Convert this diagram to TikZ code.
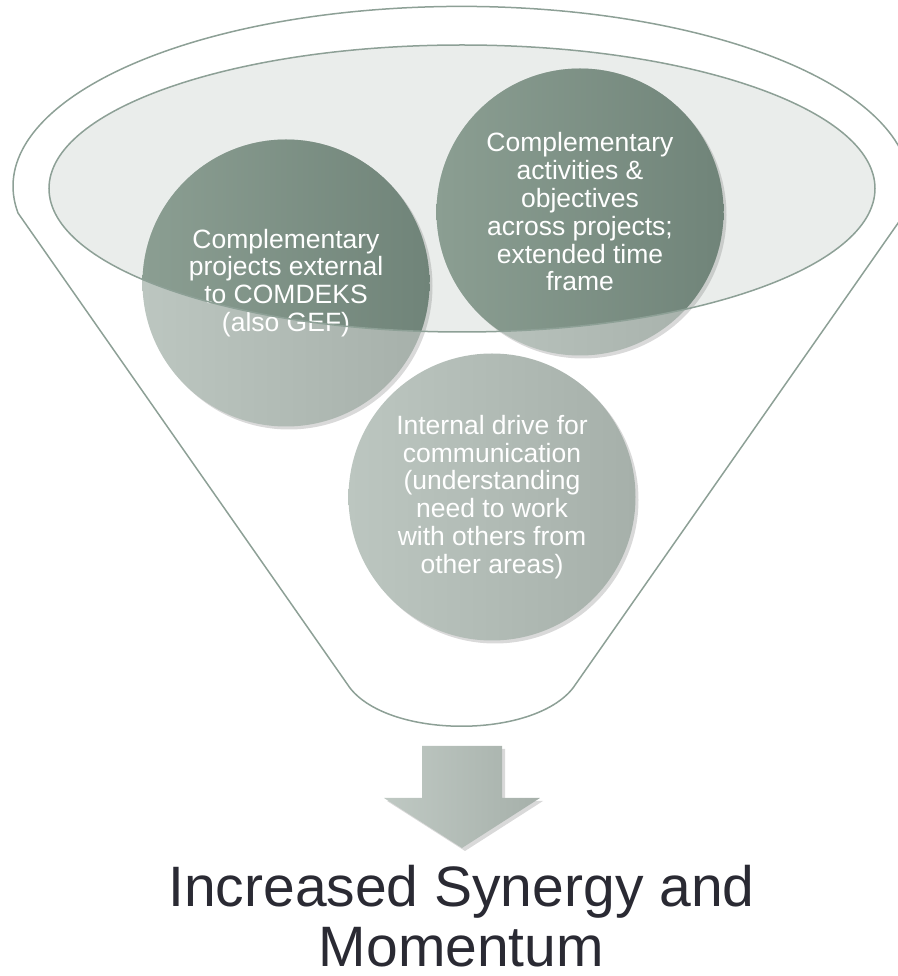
\documentclass[tikz,border=0pt]{standalone}
\usepackage{fontspec}
\setmainfont{Liberation Sans}
\usetikzlibrary{shadows}
\definecolor{rimline}{HTML}{8DA096}
\definecolor{rimfill}{HTML}{EAEDEB}
\definecolor{palegreen}{HTML}{BCC6C0}
\definecolor{palegreendk}{HTML}{A6B0AA}
\definecolor{deepgreen}{HTML}{8B9E92}
\definecolor{deepgreendk}{HTML}{708479}
\definecolor{outcometext}{HTML}{2A2A33}

\begin{document}
\begin{tikzpicture}[x=0.5pt, y=0.5pt, line width=0.75pt,
    bubble/.style = {circle, inner sep=0pt, minimum size=143.5pt,
        left color=palegreen, right color=palegreendk,
        drop shadow={shadow xshift=1.5pt, shadow yshift=-1.5pt, opacity=0.3},
        text=white, align=center, font=\fontsize{13.25}{13.9}\selectfont,
        path picture={\clip (rim) ellipse [x radius=206.5pt, y radius=71.75pt];
            \shade[left color=deepgreen, right color=deepgreendk]
            (path picture bounding box.south west) rectangle (path picture bounding box.north east);}},
    outcome/.style = {align=center, inner sep=0pt, text=outcometext, font=\fontsize{28.5}{30}\selectfont}]
    \useasboundingbox (0,0) rectangle (898,976);
    \coordinate (rim) at (462,787.5);
    \draw[rimline] (18,763) arc[start angle=188.5, end angle=-8.5, x radius=448.5, y radius=180]
        -- (573,288) .. controls (533,237) and (390,237) .. (350,288) -- cycle;
    \fill[rimfill] (rim) ellipse [x radius=206.5pt, y radius=71.75pt];
    \node[bubble] (external) at (286,693) {Complementary\\projects external\\to COMDEKS\\(also GEF)};
    \node[bubble] (across) at (580,764) {Complementary\\activities \&\\objectives\\across projects;\\extended time\\frame};
    \node[bubble] (drive) at (492,479) {Internal drive for\\communication\\(understanding\\need to work\\with others from\\other areas)};
    \draw[rimline] (rim) ellipse [x radius=206.5pt, y radius=71.75pt];
    \shade[left color=palegreen!95!white, right color=palegreendk,
        drop shadow={shadow xshift=1.5pt, shadow yshift=-1.5pt, opacity=0.3}]
        (422,230) -- (502,230) -- (502,178) -- (540,178) -- (462,128) -- (384,178) -- (422,178) -- cycle;
    \node[outcome, anchor=base] (result) at (461.5,10) {Increased Synergy and\\Momentum};
\end{tikzpicture}
\end{document}
